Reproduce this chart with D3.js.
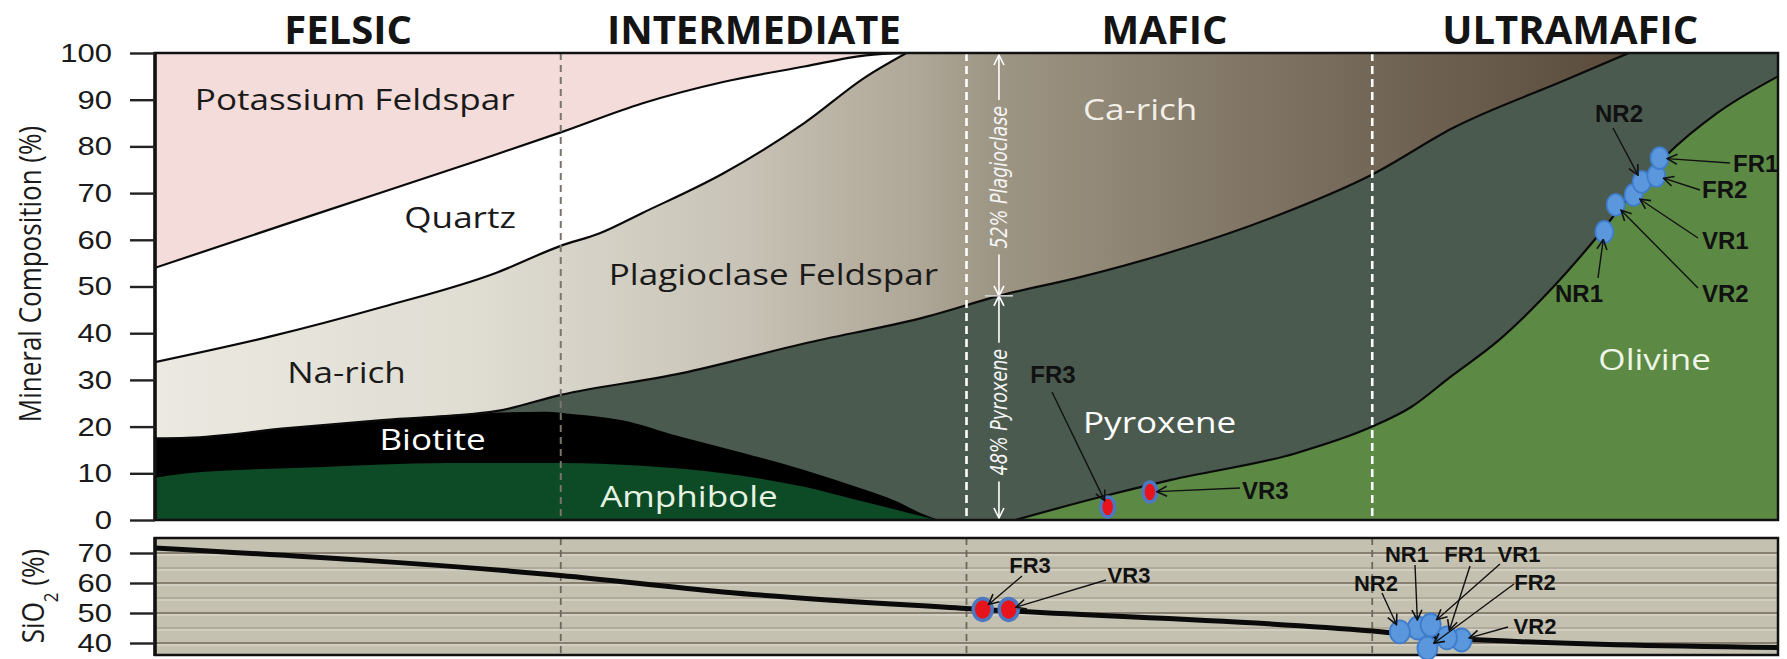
<!DOCTYPE html>
<html>
<head>
<meta charset="utf-8">
<script src="https://cdn.jsdelivr.net/npm/d3@7"></script>
<style>
  html, body { margin: 0; padding: 0; background: #ffffff; }
  svg { display: block; }
</style>
</head>
<body>
<svg id="chart" width="1787" height="659"></svg>
<script>
// ---- data ----------------------------------------------------------------
const zoneNames = ["FELSIC", "INTERMEDIATE", "MAFIC", "ULTRAMAFIC"];
const zoneBreaks = [25, 50, 75];
const zoneTitleX = [11.9, 36.9, 62.2, 87.2];

const mineralTicks = [0, 10, 20, 30, 40, 50, 60, 70, 80, 90, 100];
const silicaTicks = [40, 50, 60, 70];
const silicaGrid = [40, 45, 50, 55, 60, 65, 70];

// mineral boundaries: [position along the series, cumulative %]
const kfsBase = [[0, 54], [10, 65.6], [20, 77.1], [25, 83], [30, 89.2], [35, 93.8], [40, 97.1], [43.8, 99.5], [46.3, 100]];
const qtzBase = [[0, 33.8], [7, 39.2], [14, 45.6], [21, 52.9], [25, 58.7], [27.4, 61.4], [30, 65.7], [35, 74.2], [40, 85], [43.8, 94.9], [46.3, 100]];
const plagBase = [[0, 17.5], [2, 17.6], [8, 19.6], [14, 21.4], [21, 23.3], [25, 26.8], [32.4, 31.4], [40, 37.8], [47.5, 43.5], [52, 48], [57, 52], [63, 57.8], [69, 65], [75, 74], [80, 84], [86.9, 94.2], [90.8, 100]];
const bioTop = [[0, 17.5], [2, 17.6], [8, 19.6], [14, 21.4], [20, 22.8], [24, 23.2], [26, 22.6], [28.7, 21.4], [32.4, 17.8], [36.3, 14.3], [40, 10.7], [43.8, 6.4], [45.5, 4.3], [47.5, 1], [48.3, 0]];
const amphTop = [[0, 9], [2, 10], [10, 11.3], [18, 12.2], [25, 12.2], [30, 11.6], [35, 10], [40, 7.1], [43, 4.5], [45, 2.8], [47, 1], [48.2, 0]];
const olivTop = [[53, 0], [58, 4.7], [62.6, 8.6], [70.3, 14.3], [75, 20], [77.4, 24.2], [79.8, 30.6], [82.8, 38.5], [85.8, 48.6], [88.7, 60], [91, 70], [93.1, 78], [96.2, 87], [100, 95]];

// SiO2 trend
const silicaLine = [[0, 71.7], [25, 62.5], [35, 57], [50, 51.5], [75, 44], [80, 41.5], [100, 38.5]];

// plagioclase / pyroxene split in the mafic field
const splitAt = 52;
const splitPct = 48;

// samples
const sampleIds = ["NR1", "VR2", "VR1", "NR2", "FR2", "FR1", "FR3", "VR3"];
const sampleType = ["blue", "blue", "blue", "blue", "blue", "blue", "red", "red"];
const sampleMinX = [89.3, 90.0, 91.1, 91.6, 92.5, 92.7, 58.7, 61.3];
const sampleMinPct = [61.7, 67.5, 69.6, 72.4, 73.7, 77.5, 2.8, 6.0];
const sampleSiX = [77.8, 80.5, 78.6, 76.7, 78.4, 79.6, 51.0, 52.6];
const sampleSiO2 = [45.0, 41.0, 46.0, 43.7, 38.3, 41.7, 51.2, 51.2];

// ---- layout ----------------------------------------------------------------
const svg = d3.select("#chart");
const L = 155, R = 1778;
const topP = { t: 53, b: 520 };
const botP = { t: 538, b: 655 };
const SX = 1.17;   // horizontal stretch used for the lettering

const x = d3.scaleLinear().domain([0, 100]).range([L, R]);
const y = d3.scaleLinear().domain([0, 100]).range([topP.b, topP.t]);
const ys = d3.scaleLinear().domain([36, 75]).range([botP.b, botP.t]);

const font = "'Open Sans', 'Noto Sans', sans-serif";
const tickFont = "'Liberation Sans', Arial, sans-serif";
const labFont = "'Liberation Sans', Arial, sans-serif";
const condensed = "'DejaVu Sans Condensed', 'DejaVu Sans', sans-serif";

const defs = svg.append("defs");
defs.append("clipPath").attr("id", "clipTop")
  .append("rect").attr("x", L).attr("y", topP.t).attr("width", R - L).attr("height", topP.b - topP.t);
defs.append("clipPath").attr("id", "clipBot")
  .append("rect").attr("x", L).attr("y", botP.t).attr("width", R - L).attr("height", botP.b - botP.t);

const grad = defs.append("linearGradient").attr("id", "plagGrad")
  .attr("gradientUnits", "userSpaceOnUse")
  .attr("x1", x(0)).attr("x2", x(90.8)).attr("y1", 0).attr("y2", 0);
[[0, "#ebe9e1"], [0.22, "#dfdcd2"], [0.4, "#c8c3b6"], [0.52, "#aea696"], [0.57, "#9e9684"],
 [0.68, "#8b8170"], [0.83, "#726656"], [1, "#5a4b3b"]].forEach(([o, c]) =>
  grad.append("stop").attr("offset", o).attr("stop-color", c));

function arrowMarker(id, color) {
  defs.append("marker").attr("id", id)
    .attr("viewBox", "0 0 12 12").attr("refX", 11).attr("refY", 6)
    .attr("markerWidth", 12).attr("markerHeight", 12)
    .attr("markerUnits", "userSpaceOnUse").attr("orient", "auto-start-reverse")
    .append("path").attr("d", "M1,1 L11,6 L1,11")
    .attr("fill", "none").attr("stroke", color).attr("stroke-width", 1.6);
}
arrowMarker("arrK", "#111");
arrowMarker("arrW", "#ffffff");

// text placed at (px, py), stretched horizontally, optionally rotated
function stretched(g, px, py, rotate) {
  return g.append("text")
    .attr("transform", `translate(${px},${py}) scale(${SX},1)` + (rotate ? " rotate(-90)" : ""));
}

// ---- top panel: stacked mineral fields -------------------------------------
const gTop = svg.append("g").attr("clip-path", "url(#clipTop)");
const curve = d3.curveMonotoneX;
const above = d3.area().curve(curve).x(d => x(d[0])).y0(y(100) - 5).y1(d => y(d[1]));
const below = d3.area().curve(curve).x(d => x(d[0])).y0(y(0) + 5).y1(d => y(d[1]));
const edge = d3.line().curve(curve).x(d => x(d[0])).y(d => y(d[1]));

gTop.append("rect").attr("x", L).attr("y", topP.t).attr("width", R - L).attr("height", topP.b - topP.t)
  .attr("fill", "#4b5a4e");
gTop.append("path").datum(plagBase).attr("d", above).attr("fill", "url(#plagGrad)");
gTop.append("path").datum(qtzBase).attr("d", above).attr("fill", "#ffffff");
gTop.append("path").datum(kfsBase).attr("d", above).attr("fill", "#f3dcd9");
gTop.append("path").datum(bioTop).attr("d", below).attr("fill", "#000000");
gTop.append("path").datum(amphTop).attr("d", below).attr("fill", "#0d4a26");
gTop.append("path").datum(olivTop).attr("d", below).attr("fill", "#5c8a45");

[kfsBase, qtzBase, plagBase, olivTop].forEach(b =>
  gTop.append("path").datum(b).attr("d", edge).attr("fill", "none")
    .attr("stroke", "#0a0a0a").attr("stroke-width", 2.2));

// zone separators
gTop.append("line").attr("x1", x(zoneBreaks[0])).attr("x2", x(zoneBreaks[0]))
  .attr("y1", topP.t).attr("y2", topP.b)
  .attr("stroke", "#7a756c").attr("stroke-width", 2).attr("stroke-dasharray", "7,5");
zoneBreaks.slice(1).forEach(b =>
  gTop.append("line").attr("x1", x(b)).attr("x2", x(b)).attr("y1", topP.t).attr("y2", topP.b)
    .attr("stroke", "#ffffff").attr("stroke-width", 2.6).attr("stroke-dasharray", "8,5"));

// region names (anchored on their baseline)
const regionLabels = [
  { t: "Potassium Feldspar", p: 12.3, v: 87.8, c: "#1a1a1a" },
  { t: "Quartz", p: 18.8, v: 62.5, c: "#1a1a1a" },
  { t: "Na-rich", p: 11.8, v: 29.3, c: "#1a1a1a" },
  { t: "Biotite", p: 17.1, v: 15, c: "#ffffff" },
  { t: "Amphibole", p: 32.9, v: 2.8, c: "#e6f2e2" },
  { t: "Plagioclase Feldspar", p: 38.1, v: 50.3, c: "#1a1a1a" },
  { t: "Ca-rich", p: 60.7, v: 85.6, c: "#f2efe8" },
  { t: "Pyroxene", p: 61.9, v: 18.6, c: "#ffffff" },
  { t: "Olivine", p: 92.4, v: 32.1, c: "#eef5e6" }
];
regionLabels.forEach(d =>
  stretched(gTop, x(d.p), y(d.v)).attr("text-anchor", "middle")
    .attr("font-family", font).attr("font-size", 30).attr("fill", d.c).text(d.t));

// 52% / 48% split marker
const sx = x(splitAt);
const gSplit = svg.append("g");
const splitTexts = [
  { v: 73.4, t: `${100 - splitPct}% Plagioclase`, from: 100, to: splitPct },
  { v: 23.1, t: `${splitPct}% Pyroxene`, from: splitPct, to: 0 }
];
splitTexts.forEach(s => {
  const txt = stretched(gSplit, sx, y(s.v), true)
    .attr("text-anchor", "middle").attr("dominant-baseline", "central")
    .attr("font-family", condensed).attr("font-style", "italic").attr("font-size", 19.5)
    .attr("fill", "#f4f4f4").text(s.t);
  const half = txt.node().getComputedTextLength() / 2 + 6;
  const yFrom = y(s.from) + (s.from === 100 ? 2 : 0);
  const yTo = y(s.to) - (s.to === 0 ? 2 : 0);
  gSplit.append("line").attr("x1", sx).attr("x2", sx).attr("y1", yFrom).attr("y2", y(s.v) - half)
    .attr("stroke", "#ffffff").attr("stroke-width", 1.6).attr("marker-start", "url(#arrW)");
  gSplit.append("line").attr("x1", sx).attr("x2", sx).attr("y1", y(s.v) + half).attr("y2", yTo)
    .attr("stroke", "#ffffff").attr("stroke-width", 1.6).attr("marker-end", "url(#arrW)");
});
gSplit.append("line").attr("x1", sx - 14).attr("x2", sx + 14).attr("y1", y(splitPct)).attr("y2", y(splitPct))
  .attr("stroke", "#cfcfcf").attr("stroke-width", 1.6);

// frame + axis
svg.append("rect").attr("x", L).attr("y", topP.t).attr("width", R - L).attr("height", topP.b - topP.t)
  .attr("fill", "none").attr("stroke", "#111").attr("stroke-width", 2.5);
svg.append("line").attr("x1", L).attr("x2", L).attr("y1", topP.t - 1).attr("y2", topP.b + 1)
  .attr("stroke", "#111").attr("stroke-width", 3.5);

function styleAxis(ax) {
  ax.select(".domain").remove();
  ax.selectAll(".tick line").attr("stroke", "#222").attr("stroke-width", 2.4);
  ax.selectAll(".tick text").attr("x", 0).attr("transform", `translate(-43,0) scale(${SX},1)`)
    .attr("font-family", tickFont).attr("font-size", 26.5).attr("fill", "#1a1a1a");
}
const axTop = svg.append("g").attr("transform", `translate(${L},0)`)
  .call(d3.axisLeft(y).tickValues(mineralTicks).tickSize(25).tickPadding(18));
styleAxis(axTop);

stretched(svg, 41, 274, true).attr("text-anchor", "middle")
  .attr("font-family", font).attr("font-size", 26).attr("fill", "#1a1a1a")
  .text("Mineral Composition (%)");

// zone titles
zoneNames.forEach((d, i) =>
  svg.append("text").attr("x", x(zoneTitleX[i])).attr("y", 44)
    .attr("text-anchor", "middle").attr("font-family", font).attr("font-weight", 700)
    .attr("font-size", 40).attr("fill", "#141414").text(d));

// ---- bottom panel: SiO2 ----------------------------------------------------
const gBot = svg.append("g").attr("clip-path", "url(#clipBot)");
gBot.append("rect").attr("x", L).attr("y", botP.t).attr("width", R - L).attr("height", botP.b - botP.t)
  .attr("fill", "#c5c1b1");
gBot.selectAll("line.grid").data(silicaGrid).join("line").attr("class", "grid")
  .attr("x1", L).attr("x2", R).attr("y1", d => ys(d)).attr("y2", d => ys(d))
  .attr("stroke", d => d % 10 === 0 ? "#877f6f" : "#a9a393")
  .attr("stroke-width", d => d % 10 === 0 ? 2 : 1.4);
gBot.selectAll("line.gridHi").data(silicaGrid).join("line").attr("class", "gridHi")
  .attr("x1", L).attr("x2", R).attr("y1", d => ys(d) + 2).attr("y2", d => ys(d) + 2)
  .attr("stroke", "#dedbd0").attr("stroke-width", 1);
zoneBreaks.forEach(b =>
  gBot.append("line").attr("x1", x(b)).attr("x2", x(b)).attr("y1", botP.t).attr("y2", botP.b)
    .attr("stroke", "#6d675c").attr("stroke-width", 1.8).attr("stroke-dasharray", "7,5"));
gBot.append("path").datum(silicaLine)
  .attr("d", d3.line().curve(d3.curveMonotoneX).x(d => x(d[0])).y(d => ys(d[1])))
  .attr("fill", "none").attr("stroke", "#0a0a0a").attr("stroke-width", 5);

svg.append("rect").attr("x", L).attr("y", botP.t).attr("width", R - L).attr("height", botP.b - botP.t)
  .attr("fill", "none").attr("stroke", "#111").attr("stroke-width", 2.5);
svg.append("line").attr("x1", L).attr("x2", L).attr("y1", botP.t - 1).attr("y2", botP.b + 1)
  .attr("stroke", "#111").attr("stroke-width", 3.5);

const axBot = svg.append("g").attr("transform", `translate(${L},0)`)
  .call(d3.axisLeft(ys).tickValues(silicaTicks).tickSize(25).tickPadding(18));
styleAxis(axBot);

const siT = stretched(svg, 44, 596, true).attr("text-anchor", "middle")
  .attr("font-family", font).attr("font-size", 26).attr("fill", "#1a1a1a");
siT.append("tspan").text("SiO");
siT.append("tspan").attr("font-size", 17).attr("baseline-shift", "sub").text("2");
siT.append("tspan").text(" (%)");

// ---- samples ---------------------------------------------------------------
const samples = sampleIds.map((id, i) => ({
  id, type: sampleType[i],
  mx: sampleMinX[i], mv: sampleMinPct[i], sx: sampleSiX[i], sv: sampleSiO2[i]
}));

// label text position and arrow tail, in pixels
const topLabels = {
  NR2: { tx: 1619, ty: 113, a: "middle", ax: 1613, ay: 128 },
  FR1: { tx: 1733, ty: 163, a: "start", ax: 1730, ay: 163 },
  FR2: { tx: 1702, ty: 189, a: "start", ax: 1700, ay: 190 },
  VR1: { tx: 1702, ty: 240, a: "start", ax: 1698, ay: 238 },
  VR2: { tx: 1702, ty: 293, a: "start", ax: 1698, ay: 288 },
  NR1: { tx: 1555, ty: 293, a: "start", ax: 1598, ay: 278 },
  FR3: { tx: 1053, ty: 374, a: "middle", ax: 1052, ay: 392 },
  VR3: { tx: 1242, ty: 490, a: "start", ax: 1240, ay: 488 }
};
const botLabels = {
  NR2: { tx: 1376, ty: 583, a: "middle", ax: 1382, ay: 593 },
  NR1: { tx: 1407, ty: 554, a: "middle", ax: 1415, ay: 565 },
  FR1: { tx: 1465, ty: 554, a: "middle", ax: 1470, ay: 566 },
  VR1: { tx: 1519, ty: 554, a: "middle", ax: 1500, ay: 564 },
  FR2: { tx: 1535, ty: 582, a: "middle", ax: 1514, ay: 584 },
  VR2: { tx: 1535, ty: 626, a: "middle", ax: 1508, ay: 627 },
  FR3: { tx: 1030, ty: 565, a: "middle", ax: 1022, ay: 576 },
  VR3: { tx: 1129, ty: 575, a: "middle", ax: 1106, ay: 580 }
};

function drawSamples(g, px, py, blueR, redR, layout, fs) {
  const pts = samples.map(s => ({ s, cx: px(s), cy: py(s), r: s.type === "red" ? redR : blueR }));
  g.selectAll("ellipse").data(pts).join("ellipse")
    .attr("cx", d => d.cx).attr("cy", d => d.cy).attr("rx", d => d.r[0]).attr("ry", d => d.r[1])
    .attr("fill", d => d.s.type === "red" ? "#e8141c" : "#5a97dc")
    .attr("stroke", d => d.s.type === "red" ? "#4b78c0" : "#3f7ccc")
    .attr("stroke-width", d => d.s.type === "red" ? 3.5 : 1.8);
  pts.forEach(d => {
    const lab = layout[d.s.id];
    const dx = lab.ax - d.cx, dy = lab.ay - d.cy, len = Math.hypot(dx, dy);
    const r = Math.max(d.r[0], d.r[1]) * 0.7;
    g.append("line").attr("x1", lab.ax).attr("y1", lab.ay)
      .attr("x2", d.cx + dx / len * r).attr("y2", d.cy + dy / len * r)
      .attr("stroke", "#111").attr("stroke-width", 1.4).attr("marker-end", "url(#arrK)");
    g.append("text").attr("x", lab.tx).attr("y", lab.ty).attr("text-anchor", lab.a)
      .attr("dominant-baseline", "central").attr("font-family", labFont).attr("font-weight", 700)
      .attr("font-size", fs).attr("fill", "#111").text(d.s.id);
  });
}
drawSamples(svg.append("g"), s => x(s.mx), s => y(s.mv), [9, 11], [7, 10], topLabels, 24);
drawSamples(svg.append("g"), s => x(s.sx), s => ys(s.sv), [10, 11.5], [9.5, 11], botLabels, 22);
</script>
</body>
</html>
